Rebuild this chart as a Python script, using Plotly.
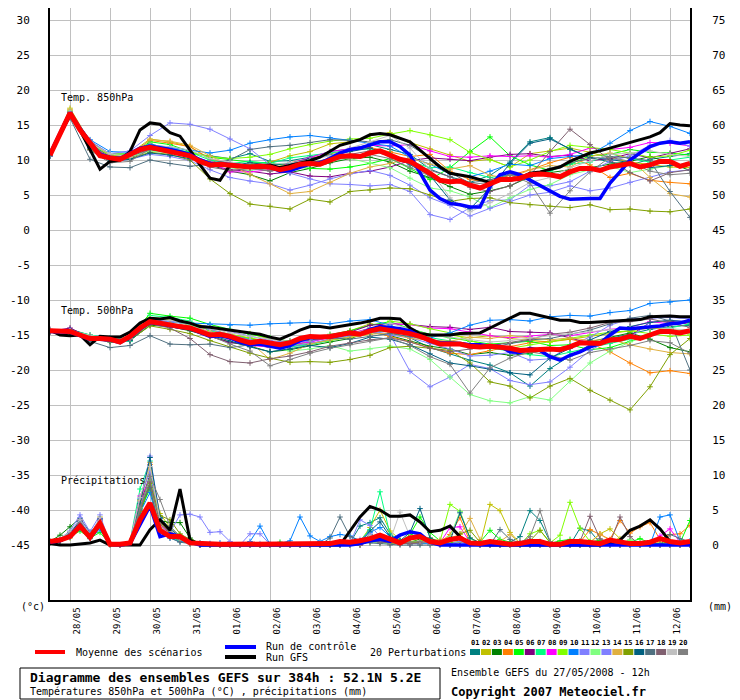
import plotly.graph_objects as go

# time axis (hours after 27/05/2008 12h)
HOURS = list(range(0, 385, 6))
HOURS_12 = list(range(0, 385, 12))
TICK_HOURS = [12, 36, 60, 84, 108, 132, 156, 180, 204, 228, 252, 276, 300, 324, 348, 372]
DAY_LABELS = ["28/05", "29/05", "30/05", "31/05", "01/06", "02/06", "03/06", "04/06",
              "05/06", "06/06", "07/06", "08/06", "09/06", "10/06", "11/06", "12/06"]

T_TICKS = [-45, -40, -35, -30, -25, -20, -15, -10, -5, 0, 5, 10, 15, 20, 25, 30]
P_TICKS = [0, 5, 10, 15, 20, 25, 30, 35, 40, 45, 50, 55, 60, 65, 70, 75]

MEMBER_COLORS = ["#008080", "#c0c000", "#008000", "#ff8000", "#00ff00", "#800080", "#00ff80",
                 "#ff00ff", "#80ff00", "#0080ff", "#8080ff", "#80ff80", "#8080ff", "#e0b040",
                 "#80a000", "#006080", "#507080", "#806070", "#c0c0c0", "#808080"]

# 850 hPa (6h)
T850_MEAN = [10.7, 13.7, 16.7, 14.3, 12.4, 10.6, 10.3, 10.1, 10.8, 11.5, 11.8, 11.5, 11.3, 11.0, 10.6, 9.8,
             9.3, 9.4, 9.3, 9.1, 9.0, 9.1, 9.0, 8.6, 8.9, 9.4, 9.5, 9.4, 10.0, 10.5, 10.6, 10.5,
             11.0, 11.3, 10.7, 10.1, 9.8, 9.0, 8.1, 7.1, 6.9, 7.0, 6.4, 6.0, 6.6, 7.2, 7.2, 7.4,
             7.9, 8.0, 7.9, 7.6, 8.3, 8.8, 8.8, 8.5, 9.0, 9.3, 9.5, 9.0, 9.3, 9.8, 9.8, 9.1, 9.5]
T850_CTRL = [10.9, 13.8, 16.8, 14.5, 12.5, 10.8, 10.4, 10.2, 10.9, 11.7, 12.0, 11.8, 11.5, 11.2, 10.8, 10.0,
             9.5, 9.5, 9.4, 9.2, 9.0, 9.1, 9.0, 8.4, 8.5, 9.0, 9.4, 9.6, 10.2, 11.0, 11.5, 11.7,
             12.2, 12.6, 12.6, 11.9, 10.7, 8.3, 5.7, 4.5, 3.8, 3.6, 3.3, 3.3, 6.2, 7.9, 8.3, 7.9,
             7.1, 6.4, 5.5, 4.8, 4.4, 4.5, 4.5, 4.5, 6.7, 8.3, 10.0, 11.0, 11.9, 12.4, 12.6, 12.4, 12.6]
T850_GFS = [10.7, 13.5, 16.4, 14.3, 11.4, 8.7, 9.8, 10.0, 11.2, 14.3, 15.3, 15.1, 13.9, 13.4, 11.4, 9.3,
            7.4, 7.1, 9.3, 9.1, 9.1, 9.2, 9.3, 8.9, 9.2, 9.6, 9.9, 10.4, 11.2, 12.1, 12.5, 12.9,
            13.6, 13.8, 13.6, 13.1, 12.6, 11.4, 10.2, 9.0, 8.1, 7.9, 7.6, 7.2, 6.8, 7.1, 7.1, 7.4,
            8.1, 8.3, 8.6, 9.0, 9.8, 10.4, 11.0, 11.3, 11.7, 12.1, 12.6, 12.9, 13.3, 13.9, 15.2, 15.0, 14.9]

# 850 hPa perturbations (12h)
T850_MEMBERS = [
    [10.8, 16.9, 12.3, 10.5, 10.6, 12.3, 11.6, 10.9, 10.6, 10.2, 10.9, 9.8, 9.9, 10.4, 11.2, 11.6, 12.2,
     11.5, 10.8, 8.7, 7.6, 6.8, 7.8, 9.7, 12.6, 13.2, 11.5, 10.4, 9.7, 9.3, 10.1, 10.5, 10.9],
    [10.9, 17.4, 12.6, 10.9, 10.9, 13.0, 12.6, 11.9, 10.0, 9.0, 9.4, 9.7, 10.6, 11.2, 12.3, 12.6, 13.5,
     13.9, 12.5, 11.6, 10.8, 9.8, 10.1, 9.0, 10.9, 11.3, 11.7, 11.1, 10.3, 9.7, 9.3, 9.0, 8.9],
    [10.6, 16.6, 12.1, 10.3, 10.5, 11.6, 11.2, 10.4, 9.3, 8.4, 7.9, 7.0, 8.2, 8.8, 9.6, 10.2, 10.4,
     9.7, 8.4, 7.5, 6.2, 5.1, 5.6, 6.3, 7.6, 8.2, 8.6, 8.9, 9.4, 9.8, 10.5, 9.6, 8.5],
    [10.7, 16.3, 12.8, 10.6, 10.8, 12.8, 12.4, 11.9, 10.2, 9.4, 9.0, 8.7, 9.6, 10.2, 10.9, 11.5, 11.8,
     11.2, 10.5, 10.8, 8.4, 7.2, 6.9, 7.8, 8.6, 9.6, 10.4, 9.3, 7.5, 8.1, 7.1, 6.8, 6.6],
    [10.9, 17.0, 12.0, 10.7, 10.6, 12.6, 12.2, 11.2, 10.4, 10.1, 9.7, 9.6, 9.1, 8.8, 8.7, 9.0, 9.5,
     10.2, 8.8, 7.2, 8.9, 11.2, 13.3, 10.6, 9.3, 8.5, 9.4, 10.6, 10.8, 11.5, 11.1, 11.0, 10.7],
    [10.6, 16.5, 11.8, 10.2, 10.3, 11.4, 11.1, 10.5, 9.3, 8.6, 8.4, 8.0, 8.3, 7.7, 7.6, 8.1, 8.4,
     9.0, 9.9, 10.3, 10.1, 9.9, 10.4, 10.8, 10.9, 10.5, 10.7, 9.9, 10.2, 10.9, 10.3, 10.9, 11.6],
    [10.7, 16.8, 12.2, 10.8, 10.9, 12.0, 11.7, 11.1, 10.0, 9.5, 9.8, 9.5, 10.3, 10.6, 11.0, 11.4, 11.6,
     10.9, 9.8, 8.9, 9.0, 8.2, 7.5, 7.9, 7.7, 8.4, 9.4, 9.7, 10.9, 10.2, 9.7, 10.0, 10.4],
    [10.8, 16.9, 12.1, 10.4, 10.7, 11.7, 11.3, 10.7, 9.7, 8.3, 8.3, 8.6, 9.5, 10.3, 11.2, 11.6, 12.1,
     12.0, 12.2, 11.3, 10.5, 10.4, 10.6, 10.5, 10.6, 10.4, 10.8, 11.7, 11.5, 11.8, 12.5, 12.4, 12.0],
    [10.8, 17.1, 12.5, 10.8, 10.6, 11.9, 11.5, 11.0, 10.5, 10.2, 10.4, 10.8, 11.6, 12.2, 12.7, 13.0, 13.1,
     13.7, 14.2, 13.6, 12.9, 11.1, 10.0, 9.0, 10.0, 11.2, 12.1, 11.8, 11.5, 11.0, 10.4, 10.6, 11.4],
    [10.9, 16.8, 12.9, 11.2, 11.1, 12.2, 11.8, 11.4, 11.0, 11.4, 12.4, 12.9, 13.3, 13.5, 13.2, 12.8, 12.4,
     12.0, 10.4, 9.4, 8.0, 7.6, 8.4, 9.4, 9.2, 10.2, 10.5, 10.8, 12.4, 14.2, 15.5, 14.8, 13.8],
    [10.7, 16.2, 12.7, 10.9, 11.3, 13.5, 15.3, 15.1, 14.4, 13.0, 11.6, 9.3, 8.1, 7.3, 6.6, 6.5, 6.3,
     6.5, 5.5, 2.2, 1.5, 3.2, 4.2, 4.3, 6.4, 6.3, 6.9, 8.4, 9.8, 10.6, 12.1, 12.8, 12.0],
    [10.6, 16.6, 11.9, 10.1, 10.4, 11.3, 11.0, 10.6, 9.5, 8.9, 8.5, 8.9, 9.3, 9.8, 10.1, 10.2, 9.6,
     8.9, 7.4, 6.0, 5.6, 4.7, 3.2, 4.6, 5.8, 6.5, 7.9, 8.6, 9.1, 8.2, 8.7, 9.2, 9.5],
    [10.5, 16.4, 11.6, 9.8, 10.1, 10.8, 10.5, 9.9, 8.6, 7.5, 7.0, 6.6, 5.7, 6.4, 7.3, 8.0, 8.5,
     7.8, 6.4, 4.6, 3.5, 2.0, 3.1, 4.0, 5.0, 5.4, 6.3, 5.6, 6.0, 6.8, 7.5, 8.3, 8.6],
    [10.8, 17.2, 12.5, 10.6, 10.5, 12.9, 12.7, 12.1, 10.6, 9.3, 8.0, 6.6, 5.2, 5.5, 6.8, 8.1, 9.0,
     9.5, 10.3, 9.4, 8.7, 9.2, 7.8, 7.4, 8.6, 9.2, 9.0, 10.5, 11.0, 10.2, 7.5, 5.2, 4.7],
    [10.7, 16.9, 11.5, 10.0, 10.2, 11.1, 10.8, 10.0, 7.3, 5.2, 3.7, 3.4, 3.0, 4.4, 4.0, 5.5, 5.7,
     6.0, 5.9, 5.0, 4.1, 4.5, 4.6, 3.9, 3.6, 3.4, 3.2, 3.6, 2.9, 3.0, 2.7, 2.6, 3.0],
    [10.6, 16.5, 11.7, 9.8, 10.1, 11.0, 10.7, 10.2, 9.5, 9.2, 9.6, 9.3, 9.5, 10.2, 10.7, 11.2, 11.7,
     10.8, 9.3, 7.8, 4.3, 3.0, 6.0, 9.5, 12.4, 13.0, 11.6, 10.3, 10.1, 9.6, 8.9, 9.2, 9.5],
    [10.8, 16.0, 10.1, 9.0, 8.9, 10.0, 9.5, 9.1, 9.4, 10.0, 11.5, 11.9, 12.1, 12.5, 12.9, 12.8, 12.6,
     12.9, 12.1, 10.3, 8.2, 6.7, 7.2, 7.9, 7.5, 8.8, 9.6, 10.2, 10.5, 10.3, 9.9, 5.5, 1.8],
    [10.7, 16.6, 12.0, 10.4, 10.6, 11.5, 11.1, 10.4, 9.0, 8.5, 8.8, 8.5, 9.0, 9.6, 10.3, 10.8, 11.3,
     10.6, 9.5, 8.5, 7.6, 6.1, 5.5, 6.3, 7.8, 11.2, 14.4, 12.2, 10.0, 8.2, 7.0, 8.2, 8.6],
    [10.9, 17.0, 12.4, 10.9, 10.4, 12.1, 11.9, 11.4, 10.2, 9.7, 9.2, 9.4, 9.6, 10.0, 10.6, 11.7, 12.6,
     13.5, 11.7, 8.6, 4.6, 2.6, 3.9, 5.2, 6.8, 7.5, 8.9, 9.8, 10.8, 11.0, 11.3, 10.8, 10.5],
    [10.6, 16.3, 11.4, 9.6, 9.8, 11.6, 11.3, 10.8, 9.7, 9.1, 8.8, 8.4, 8.8, 9.4, 10.0, 10.3, 10.8,
     10.2, 8.9, 7.7, 6.9, 6.5, 6.8, 7.9, 6.7, 2.4, 5.6, 8.3, 10.4, 9.8, 8.4, 7.9, 8.1],
]

# 500 hPa (6h)
T500_MEAN = [-14.4, -14.5, -14.5, -15.0, -15.5, -15.5, -15.6, -16.0, -15.2, -14.0, -13.1, -13.3, -13.6, -13.8, -14.0, -14.5,
             -15.0, -14.9, -15.2, -15.7, -16.1, -15.9, -16.2, -16.4, -16.1, -15.5, -15.2, -15.3, -15.2, -14.9, -14.7, -14.9,
             -14.4, -14.1, -14.3, -14.5, -14.8, -15.2, -15.7, -16.3, -16.3, -16.3, -16.6, -16.7, -16.6, -16.7, -16.9, -17.2,
             -17.1, -17.0, -17.0, -17.1, -16.7, -16.1, -16.1, -16.2, -15.7, -15.6, -15.2, -15.5, -15.0, -14.5, -14.5, -14.7, -14.4]
T500_CTRL = [-14.5, -14.6, -14.6, -15.1, -15.6, -15.6, -15.7, -16.1, -15.3, -14.1, -13.2, -13.4, -13.7, -13.9, -14.1, -14.6,
             -15.2, -15.1, -15.4, -16.0, -16.4, -16.3, -16.6, -16.9, -16.5, -15.8, -15.4, -15.4, -15.3, -15.0, -14.8, -14.9,
             -14.2, -13.8, -13.9, -14.1, -14.4, -15.2, -15.9, -16.1, -16.1, -16.2, -16.4, -16.4, -16.6, -16.6, -17.4, -17.5,
             -16.9, -17.2, -18.1, -18.6, -17.9, -17.4, -16.7, -16.2, -15.0, -14.0, -14.1, -14.0, -13.8, -13.7, -13.4, -13.3, -12.9]
T500_GFS = [-14.3, -15.0, -15.1, -15.0, -16.4, -15.2, -15.3, -15.3, -14.6, -13.3, -12.6, -12.7, -12.5, -13.0, -13.3, -13.8,
            -13.9, -14.1, -14.2, -14.4, -14.7, -14.9, -15.3, -15.6, -15.0, -14.3, -13.8, -13.8, -14.0, -13.8, -13.6, -13.3,
            -13.0, -12.6, -12.6, -12.7, -14.0, -14.8, -15.0, -15.0, -15.0, -14.8, -14.8, -14.7, -14.0, -13.3, -12.6, -11.9,
            -11.9, -12.2, -12.6, -12.9, -12.9, -13.2, -13.2, -13.1, -13.1, -13.0, -12.9, -12.8, -12.4, -12.3, -12.3, -12.4, -12.4]

# 500 hPa perturbations (12h)
T500_MEMBERS = [
    [-14.3, -14.4, -15.2, -15.7, -15.6, -13.0, -13.4, -13.9, -14.8, -15.2, -15.5, -16.4, -16.6, -16.3, -15.6, -14.9, -14.0,
     -14.6, -15.4, -16.8, -17.7, -18.6, -19.3, -20.4, -22.3, -19.8, -18.0, -16.4, -15.5, -14.9, -14.2, -13.8, -13.6],
    [-14.2, -14.3, -15.4, -15.8, -15.5, -12.5, -12.7, -13.2, -13.9, -14.3, -14.8, -15.6, -15.9, -15.8, -15.0, -14.4, -13.4,
     -13.8, -14.9, -15.2, -15.0, -15.4, -15.1, -15.5, -15.8, -16.0, -15.6, -15.2, -14.9, -14.5, -14.0, -14.2, -14.5],
    [-14.5, -14.6, -15.4, -16.0, -15.8, -13.6, -13.8, -14.4, -15.2, -16.0, -16.6, -17.4, -17.1, -16.5, -16.0, -15.5, -14.6,
     -15.1, -15.9, -16.6, -17.0, -17.8, -17.5, -17.9, -17.6, -17.0, -16.6, -16.0, -15.4, -14.7, -15.6, -16.8, -17.4],
    [-14.4, -14.5, -15.3, -15.7, -15.5, -13.1, -13.0, -13.5, -14.3, -14.9, -15.5, -16.1, -16.0, -15.7, -15.3, -14.9, -14.4,
     -15.2, -16.0, -16.8, -17.6, -17.8, -17.2, -16.6, -16.1, -15.9, -15.6, -16.2, -17.4, -19.0, -20.4, -20.1, -20.5],
    [-14.3, -14.2, -15.0, -15.5, -15.4, -11.9, -12.3, -12.6, -13.5, -14.2, -14.9, -15.4, -15.9, -15.5, -14.9, -14.4, -13.6,
     -13.1, -14.1, -14.9, -15.4, -15.9, -16.3, -16.1, -15.9, -16.5, -16.4, -17.1, -16.8, -15.9, -15.0, -14.6, -14.4],
    [-14.5, -14.0, -15.3, -15.6, -15.7, -13.2, -13.5, -14.0, -15.2, -16.1, -16.3, -16.8, -16.4, -16.0, -15.2, -14.6, -13.6,
     -13.4, -13.5, -13.8, -13.9, -14.2, -13.9, -14.5, -14.6, -14.7, -15.4, -16.2, -16.0, -15.1, -13.2, -13.0, -13.5],
    [-14.4, -14.6, -15.4, -15.9, -15.9, -12.2, -12.5, -13.0, -14.4, -15.1, -15.6, -16.3, -16.7, -16.4, -15.8, -15.2, -14.6,
     -14.4, -14.9, -15.3, -15.9, -16.4, -16.9, -17.3, -17.8, -18.1, -17.4, -16.8, -16.2, -15.6, -14.8, -14.0, -13.4],
    [-14.2, -14.4, -15.1, -15.6, -15.6, -12.8, -13.0, -13.5, -14.6, -15.6, -16.5, -16.7, -16.4, -16.0, -15.4, -14.8, -14.1,
     -13.4, -13.5, -14.0, -14.1, -14.6, -15.1, -15.4, -15.2, -14.9, -15.1, -14.6, -14.2, -13.9, -13.1, -13.4, -13.2],
    [-14.4, -14.5, -15.2, -15.8, -15.6, -12.5, -12.9, -13.6, -14.3, -14.9, -15.4, -16.0, -16.5, -16.2, -15.8, -15.4, -14.9,
     -13.0, -13.4, -14.1, -14.7, -15.8, -16.6, -16.9, -16.4, -16.0, -15.5, -15.0, -14.6, -14.4, -14.8, -15.2, -15.0],
    [-14.3, -14.3, -15.0, -15.4, -15.5, -12.8, -13.2, -13.3, -13.5, -13.6, -13.6, -13.4, -13.3, -13.2, -13.4, -13.0, -12.8,
     -13.6, -14.7, -15.4, -14.7, -13.6, -12.9, -12.8, -13.0, -12.4, -12.2, -12.3, -11.8, -11.5, -10.5, -10.3, -10.0],
    [-14.5, -14.6, -15.5, -15.9, -15.8, -13.2, -13.1, -13.4, -13.8, -14.5, -15.2, -15.8, -16.1, -15.9, -15.3, -14.8, -14.4,
     -14.9, -20.2, -22.4, -21.0, -19.2, -19.8, -21.5, -22.1, -21.7, -19.6, -17.2, -15.7, -15.4, -13.2, -12.9, -13.0],
    [-14.3, -14.4, -15.0, -15.5, -15.4, -12.6, -13.0, -13.5, -14.7, -15.5, -16.2, -16.7, -17.3, -17.0, -16.5, -17.3, -17.0,
     -16.6, -17.0, -18.5, -21.0, -23.5, -24.4, -24.7, -23.8, -24.3, -21.6, -19.0, -17.3, -16.0, -15.0, -14.6, -14.8],
    [-14.4, -14.5, -15.3, -15.8, -15.6, -12.9, -13.0, -13.4, -14.2, -15.0, -15.7, -16.4, -16.6, -16.2, -15.6, -15.1, -14.6,
     -15.0, -15.4, -16.2, -17.0, -18.0, -17.9, -17.5, -18.6, -18.4, -16.5, -15.3, -13.6, -12.7, -12.6, -12.5, -12.7],
    [-14.4, -14.5, -15.2, -15.7, -15.5, -12.9, -13.3, -13.8, -14.6, -15.4, -16.0, -18.5, -17.6, -16.3, -15.7, -15.3, -14.9,
     -14.7, -15.5, -15.7, -15.9, -15.3, -15.5, -15.1, -15.4, -15.7, -15.4, -15.8, -15.6, -16.4, -17.0, -17.5, -17.7],
    [-14.5, -14.6, -15.3, -15.9, -15.7, -13.7, -14.2, -14.8, -15.8, -16.7, -17.6, -18.3, -18.9, -18.8, -18.9, -18.5, -17.9,
     -16.8, -16.6, -16.9, -17.2, -19.0, -21.7, -22.3, -24.0, -22.3, -21.2, -22.9, -24.3, -25.7, -22.4, -17.8, -15.5],
    [-14.4, -14.4, -15.2, -15.8, -15.8, -13.3, -13.6, -14.2, -15.0, -15.9, -16.7, -17.4, -17.0, -16.5, -16.8, -16.2, -15.3,
     -15.6, -16.4, -17.7, -19.0, -19.4, -19.9, -20.4, -20.7, -18.3, -16.9, -15.7, -14.5, -13.8, -13.2, -12.9, -13.2],
    [-14.6, -14.6, -15.9, -16.8, -16.5, -15.1, -16.3, -16.4, -16.3, -16.8, -16.4, -16.2, -15.9, -15.7, -15.4, -15.6, -15.2,
     -14.8, -15.2, -15.8, -16.0, -16.5, -16.8, -16.2, -15.7, -15.5, -14.9, -14.3, -13.4, -12.6, -12.2, -13.0, -20.0],
    [-14.5, -14.5, -15.3, -15.9, -15.6, -13.4, -14.0, -15.5, -17.8, -18.8, -19.0, -18.4, -18.0, -17.4, -16.6, -16.1, -15.7,
     -15.4, -16.0, -16.9, -17.4, -17.0, -16.5, -16.1, -15.6, -14.9, -14.6, -14.0, -13.2, -13.1, -12.7, -13.3, -13.9],
    [-14.3, -14.4, -15.1, -15.6, -15.5, -12.7, -12.9, -13.3, -14.1, -14.7, -15.2, -15.6, -15.9, -15.6, -15.0, -14.8, -14.2,
     -13.3, -14.2, -15.0, -15.3, -15.7, -16.0, -15.8, -15.4, -15.1, -14.8, -14.5, -14.2, -14.0, -13.9, -14.1, -14.3],
    [-14.4, -14.5, -15.2, -15.7, -15.6, -13.0, -13.4, -14.1, -15.1, -16.3, -17.3, -19.4, -18.5, -17.6, -16.9, -16.4, -15.8,
     -15.4, -16.5, -18.1, -19.2, -23.3, -19.7, -18.3, -17.4, -17.9, -18.6, -17.5, -17.0, -16.5, -15.8, -16.1, -17.6],
]

# precipitation, mm per 6h
PRECIP_MEAN = [0.5, 0.7, 1.2, 2.7, 1.1, 3.1, 0.1, 0.1, 0.3, 3.6, 6.0, 2.1, 1.2, 1.2, 0.3, 0.2,
               0.1, 0.1, 0.1, 0.1, 0.1, 0.2, 0.1, 0.1, 0.1, 0.2, 0.2, 0.1, 0.2, 0.5, 0.4, 0.6,
               0.9, 1.4, 0.8, 0.3, 1.0, 1.2, 0.5, 0.3, 0.8, 1.0, 0.3, 0.2, 0.5, 0.3, 0.1, 0.2,
               0.5, 0.5, 0.1, 0.1, 0.5, 0.5, 0.4, 0.2, 0.7, 0.5, 0.2, 0.2, 0.4, 0.9, 0.5, 0.3, 0.5]
PRECIP_CTRL = [0.4, 0.6, 1.3, 2.8, 1.0, 2.9, 0.1, 0, 0.2, 2.8, 5.6, 1.2, 1.6, 1.2, 0.4, 0,
               0, 0, 0, 0, 0, 0, 0, 0, 0, 0, 0, 0, 0, 0, 0, 0.2,
               0.6, 0.8, 0.5, 1.4, 1.9, 1.6, 0.4, 0, 0, 0, 0, 0, 0, 0, 0, 0,
               0, 0, 0, 0, 0, 0, 0, 0, 0, 0, 0, 0, 0, 0, 0, 0, 0]
PRECIP_GFS = [0.2, 0, 0, 0.1, 0.3, 0.7, 0, 0, 0, 0, 2.2, 3.6, 2.1, 8.0, 0.7, 0,
              0, 0, 0, 0, 0, 0, 0, 0, 0, 0, 0, 0, 0, 0, 2.0, 4.0,
              5.5, 5.0, 4.1, 4.1, 4.3, 3.3, 1.9, 2.1, 2.7, 1.2, 0.1, 0, 0, 0, 0, 0,
              0, 0, 0, 0, 0, 0, 0, 0, 0.2, 0.7, 2.1, 2.7, 3.6, 2.3, 0.5, 0.2, 0.1]

PRECIP_MEMBERS = [
    [0.4, 0.6, 1.5, 3.2, 1.2, 3.0, 0.1, 0, 0.4, 5.5, 9.5, 3.8, 2.1, 1.4, 0.5, 0.1,
     0, 0, 0, 0, 0, 0, 0, 0, 0, 0, 0, 0, 0, 0, 0.3, 2.7,
     3.2, 3.9, 1.6, 0.6, 0.3, 0.2, 0.4, 0.1, 0, 0, 0, 0, 0, 0.2, 0.4, 1.2,
     4.9, 3.5, 0.5, 0, 0, 2.4, 2.0, 0.3, 0, 0, 0, 0, 0, 0, 0.2, 0, 0.3],
    [0.3, 0.5, 1.0, 2.5, 1.0, 4.0, 0.1, 0, 0.3, 6.5, 11.0, 4.5, 2.5, 1.0, 0.3, 0,
     0, 0, 0, 0, 0, 0, 0, 0, 0, 0, 0, 0, 0, 0, 0, 0.5,
     2.5, 5.0, 2.0, 0.8, 0.3, 0.5, 0.6, 0.2, 0, 0.4, 0.3, 0, 5.8, 4.9, 1.8, 0.3,
     0, 0, 0, 0, 0, 0.6, 0.4, 1.6, 2.3, 0.9, 0, 0, 0, 0.3, 0, 0, 0],
    [0.5, 1.4, 2.6, 3.8, 1.8, 3.3, 0.2, 0, 0.5, 4.5, 8.5, 3.5, 3.2, 3.2, 1.0, 0.2,
     0, 0, 0, 0, 0, 0, 0, 0, 0, 0, 0, 0, 0, 0, 0, 0.3,
     1.5, 1.0, 0.5, 0.3, 0.4, 0.8, 0.5, 0.2, 0, 0, 0, 0, 0, 0, 0, 0,
     0, 0, 0, 0, 0, 0, 0.3, 0, 0, 0.6, 0, 0, 0, 0, 0, 0, 0],
    [0.4, 0.7, 1.8, 3.5, 1.5, 3.5, 0.1, 0, 0.3, 6.0, 11.5, 2.5, 1.8, 0.9, 0.3, 0,
     0, 0, 0, 0, 0, 0, 0, 0, 0, 0, 0, 0, 0, 0, 0, 0.2,
     1.0, 0.8, 0.6, 0.3, 0.2, 0.5, 0.9, 0.4, 1.5, 3.9, 0.5, 0, 0, 0, 0, 0,
     0, 0, 0, 0, 0, 0.4, 2.2, 1.5, 0.8, 3.5, 1.7, 2.6, 3.2, 0.8, 1.5, 1.6, 2.8],
    [0.4, 0.8, 1.2, 2.0, 1.0, 1.8, 0.1, 0, 0.4, 5.0, 8.0, 2.2, 1.2, 0.6, 0.2, 0,
     0, 0, 0, 0, 0, 0, 0, 0.4, 0.2, 0, 0, 0, 0, 0, 0, 0.4,
     1.2, 0.6, 0.3, 0.4, 1.5, 4.0, 1.8, 0.6, 0.3, 0.5, 0.2, 0.4, 2.1, 0.8, 0.4, 0.2,
     0.3, 0.5, 0.2, 0.6, 0.8, 0.3, 0.4, 0.7, 0.3, 0.2, 0.4, 0.9, 0.3, 0.2, 0.5, 0.3, 3.5],
    [0.3, 0.6, 1.6, 3.6, 1.4, 3.8, 0.1, 0, 0.3, 5.8, 10.0, 3.2, 1.6, 0.7, 0.2, 0,
     0, 0, 0, 0, 0, 0, 0, 0, 0, 0, 0, 0, 0, 0, 0, 0,
     0.6, 0.4, 0.3, 0.2, 0.2, 0.3, 0.5, 0.2, 0, 0, 0, 0, 0, 0, 0, 0,
     0, 0, 0, 0, 0, 0, 0, 0, 0, 0, 0, 0, 0, 0, 0, 0, 0],
    [0.5, 0.8, 1.9, 3.0, 1.3, 2.8, 0.1, 0, 0.5, 8.0, 12.0, 3.5, 2.0, 1.0, 0.4, 0.1,
     0, 0, 0, 0, 0, 0, 0, 0, 0, 0, 0, 0, 0, 0, 0, 0.6,
     2.2, 7.6, 1.5, 0.5, 0.3, 0.2, 0.4, 0.2, 0, 0, 0, 0, 0, 0, 0, 0,
     0, 0, 0, 0, 0, 0, 0, 0, 0, 0, 0, 0, 0, 0, 0, 0, 0],
    [0.4, 0.7, 1.7, 3.3, 1.3, 3.4, 0.1, 0, 0.4, 7.0, 9.0, 2.8, 1.5, 0.8, 0.3, 0,
     0, 0, 0, 0, 0, 0, 0, 0, 0, 0, 0, 0, 0, 0, 0, 0.2,
     0.8, 0.5, 0.3, 0.2, 0.3, 0.4, 0.6, 0.3, 2.5, 2.6, 0.4, 0, 0, 0, 0, 0,
     0, 0, 0, 0, 0, 0, 0, 0, 0, 0, 0, 0, 0, 1.3, 2.3, 0.4, 0],
    [0.4, 0.6, 1.4, 2.8, 1.1, 3.1, 0.1, 0, 0.3, 5.2, 9.8, 3.0, 2.6, 1.3, 0.6, 0.2,
     0, 0, 0, 0, 0, 0, 0, 0, 0, 0, 0, 0, 0, 0, 0, 0.1,
     0.5, 0.6, 0.4, 0.3, 0.5, 0.6, 1.0, 0.5, 5.8, 4.8, 1.0, 0.3, 0, 0, 0, 0,
     1.6, 2.1, 0.3, 1.4, 6.1, 2.4, 0.5, 0, 0, 0.4, 0.6, 0, 0, 0, 0, 0, 0],
    [0.3, 0.5, 1.1, 2.3, 0.9, 2.2, 0.1, 0, 0.3, 4.6, 7.5, 2.0, 1.0, 0.5, 0.3, 0.2,
     0.2, 0.3, 0.1, 0, 0.5, 2.7, 0.1, 0.2, 0.6, 4.0, 1.3, 0.5, 1.2, 1.5, 1.3, 0.6,
     1.8, 2.5, 1.2, 0.4, 0.2, 0.3, 0.2, 0.1, 0, 0, 0, 0, 0, 0, 0, 0,
     0, 0, 0, 0, 0, 0, 0, 0, 0, 0, 0, 0, 0, 4.0, 4.3, 0.5, 0.6],
    [0.5, 0.9, 2.0, 4.3, 1.9, 4.3, 0.2, 0, 0.4, 6.2, 12.7, 4.0, 1.8, 4.3, 4.4, 4.0,
     1.8, 1.9, 0.5, 0, 1.6, 1.6, 0.1, 0, 0, 0, 0, 0, 0, 0, 0.2, 3.6,
     2.8, 1.2, 0.5, 0.3, 0.2, 0.3, 0.4, 0.2, 0.2, 0.5, 0, 0, 0, 0, 0, 0,
     0, 0, 0, 0, 0, 0, 0, 0, 0, 0, 0, 0, 0, 0, 0, 0, 0],
    [0.4, 0.7, 1.3, 2.6, 1.0, 2.6, 0.1, 0, 0.3, 5.4, 9.2, 2.7, 1.4, 0.7, 0.3, 0.1,
     0, 0, 0, 0, 0, 0, 0, 0, 0, 0, 0, 0, 0, 0, 0, 0.1,
     0.4, 0.3, 0.2, 0.3, 0.3, 0.5, 0.7, 0.5, 1.2, 4.8, 0.9, 0.2, 0, 0, 0, 0,
     0, 0, 0, 0, 0, 0, 0, 0, 0.5, 0, 0.8, 0, 0, 0, 0, 0, 0],
    [0.4, 0.8, 1.6, 3.9, 1.6, 3.6, 0.1, 0, 0.4, 6.6, 10.5, 3.4, 2.4, 1.2, 0.5, 0.3,
     0.2, 0.2, 0.1, 0, 0.3, 0.2, 0, 0, 0, 0, 0, 0, 0, 0, 0, 0.8,
     1.6, 0.8, 0.4, 0.3, 0.2, 0.4, 0.3, 0.1, 0, 0, 0, 0, 0, 0, 0, 0,
     0, 0, 0, 0, 0, 0, 0, 0, 0, 0, 0, 0, 0, 0, 0, 0, 0],
    [0.3, 0.6, 1.5, 3.1, 1.2, 3.2, 0.1, 0, 0.3, 6.3, 11.8, 3.1, 1.9, 0.9, 0.3, 0,
     0, 0, 0, 0, 0, 0, 0, 0, 0, 0, 0, 0, 0, 0, 0, 0.3,
     0.9, 0.7, 0.4, 0.3, 0.3, 0.4, 0.6, 0.8, 1.0, 1.5, 3.8, 0.8, 0.3, 0.5, 1.5, 0.3,
     0, 0, 0, 0, 0, 0, 0.3, 1.6, 0.6, 0, 0, 0, 0, 0, 0, 0, 0],
    [0.5, 0.8, 1.3, 2.4, 1.0, 2.7, 0.1, 0, 0.4, 4.8, 8.8, 4.2, 3.6, 1.6, 0.8, 0.2,
     0, 0, 0, 0, 0, 0, 0, 0, 0, 0, 0, 0, 0, 0, 0, 0.2,
     0.6, 0.5, 0.3, 0.2, 0.3, 0.4, 0.5, 0.3, 0.4, 1.6, 2.1, 0.4, 0.2, 0, 0, 0,
     0.6, 2.1, 0.4, 0, 0, 0, 0, 0, 0, 0, 0, 0, 0, 0, 0, 0, 0],
    [0.4, 0.7, 1.7, 3.4, 1.5, 3.7, 0.1, 0, 0.4, 5.9, 12.5, 3.9, 2.3, 1.1, 0.4, 0,
     0, 0, 0, 0, 0, 0, 0, 0, 0, 0, 0, 0, 0, 0, 0, 0.4,
     2.0, 3.3, 1.2, 0.6, 1.8, 5.2, 1.0, 0.4, 0.6, 4.6, 1.0, 0.3, 0, 0, 0, 0,
     0, 0, 0, 0, 0, 0, 0, 0, 0, 0, 0, 0, 0, 0, 0, 0, 0],
    [0.3, 0.5, 1.2, 2.7, 1.1, 2.9, 0.1, 0, 0.3, 5.6, 8.2, 2.1, 1.0, 0.4, 0.2, 0,
     0, 0, 0, 0, 0, 0, 0, 0, 0, 0, 0, 0, 1.0, 4.0, 1.2, 0.6,
     0.3, 0.2, 0, 0, 0, 0, 0, 0, 0, 0, 0, 0, 0, 2.2, 0.8, 0.3,
     0.6, 0.4, 0, 0, 0, 0, 0, 0, 0, 0, 0, 0, 0, 0, 1.5, 0.9, 0.4],
    [0.4, 0.6, 1.4, 2.9, 1.2, 3.0, 0.1, 0, 0.3, 5.0, 9.0, 3.0, 1.7, 0.8, 0.3, 0,
     0, 0, 0, 0, 0, 0, 0, 0, 0, 0, 0, 0, 0, 0, 0, 0,
     0.5, 0.4, 0.3, 0.2, 0.2, 0.3, 0.4, 0.2, 0, 0, 0, 0, 0, 0, 0, 0.5,
     0.8, 0.3, 0, 0, 0, 0.5, 4.1, 0.9, 0.3, 4.0, 1.2, 0, 0, 0, 0, 0, 0],
    [0.5, 0.9, 1.9, 3.6, 1.5, 3.9, 0.2, 0, 0.4, 6.8, 11.2, 3.6, 2.2, 1.0, 0.4, 0.1,
     0, 0, 0, 0, 0, 0, 0, 0, 0, 0, 0, 0, 0, 0, 0, 0.3,
     1.4, 0.9, 0.6, 4.7, 1.2, 0.5, 0.4, 0.2, 0, 0, 0, 0, 0, 0, 0, 0,
     0, 0, 0, 0, 0, 0, 0, 0, 0, 0, 0, 0, 0, 0, 0, 0, 0],
    [0.4, 0.6, 1.5, 3.0, 1.3, 3.1, 0.1, 0, 0.5, 5.3, 9.8, 6.5, 2.7, 1.2, 0.4, 0,
     0, 0, 0, 0, 0, 0, 0, 0, 0, 0, 0, 0, 0, 0, 0.2, 0.4,
     0.8, 0.6, 0.4, 0.3, 0.4, 0.5, 0.3, 0.2, 0, 0, 0, 0, 0, 0, 0, 0.3,
     1.2, 4.9, 0.5, 0, 0, 0, 0, 0, 0, 0, 0, 0, 0, 0, 0, 0, 0],
]

for name, rows, n in [("850", T850_MEMBERS, len(HOURS_12)), ("500", T500_MEMBERS, len(HOURS_12)),
                      ("precip", PRECIP_MEMBERS, len(HOURS))]:
    for k, r in enumerate(rows):
        assert len(r) == n, (name, k + 1, len(r))

FONT = "DejaVu Sans Mono"
OFF = 8                      # the page body adds 8px around the figure
W, H = 740 - OFF, 700 - OFF
L, R, B = 50, 690, 600       # plot area in page pixels
TOP = OFF                    # first visible figure row in page pixels


def px(x):
    return (x - L) / (R - L)


def py(y):
    return (B - y) / (B - TOP)


fig = go.Figure()

for k, col in enumerate(MEMBER_COLORS):
    style = dict(mode="lines+markers", line=dict(color=col, width=1),
                 marker=dict(symbol="cross-thin", size=4, line=dict(color=col, width=1)),
                 hoverinfo="skip", showlegend=False)
    fig.add_trace(go.Scatter(x=HOURS_12, y=T850_MEMBERS[k], **style))
    fig.add_trace(go.Scatter(x=HOURS_12, y=T500_MEMBERS[k], **style))
    fig.add_trace(go.Scatter(x=HOURS, y=PRECIP_MEMBERS[k], yaxis="y2", **style))

for y850, y500, prec, col, w in [(T850_GFS, T500_GFS, PRECIP_GFS, "black", 3),
                                  (T850_CTRL, T500_CTRL, PRECIP_CTRL, "#0000ff", 3.5),
                                  (T850_MEAN, T500_MEAN, PRECIP_MEAN, "#ff0000", 5)]:
    style = dict(mode="lines", line=dict(color=col, width=w), hoverinfo="skip", showlegend=False)
    fig.add_trace(go.Scatter(x=HOURS, y=y850, **style))
    fig.add_trace(go.Scatter(x=HOURS, y=y500, **style))
    fig.add_trace(go.Scatter(x=HOURS, y=prec, yaxis="y2", **style))

# 0 degC sits at page y=230, 5 degC per 35 px
y_lo = (230 - B) / 7.0
y_hi = (230 - TOP) / 7.0

fig.update_layout(
    width=W, height=H,
    margin=dict(l=L - OFF, r=W - (R - OFF), t=0, b=H - (B - OFF)),
    paper_bgcolor="white", plot_bgcolor="white",
    showlegend=False,
    font=dict(family=FONT, size=10, color="black"),
    xaxis=dict(range=[0, 384], tickmode="array", tickvals=TICK_HOURS, ticktext=DAY_LABELS,
               tickangle=-90, tickfont=dict(size=9), ticklabelshift=7, ticklabelstandoff=2,
               showgrid=True, gridcolor="#c0c0c0",
               gridwidth=1, zeroline=False, showline=True, linecolor="black", linewidth=1.5,
               ticks="", fixedrange=True),
    yaxis=dict(range=[y_lo, y_hi], tickmode="array", tickvals=T_TICKS,
               ticktext=[str(v) for v in T_TICKS], tickfont=dict(size=11),
               showgrid=True, gridcolor="#c0c0c0", gridwidth=1, zeroline=False,
               showline=True, linecolor="black", linewidth=2, ticks="", ticklabelstandoff=16),
    yaxis2=dict(range=[y_lo + 45, y_hi + 45], overlaying="y", side="right", tickmode="array",
                tickvals=P_TICKS, ticktext=[str(v) for v in P_TICKS], tickfont=dict(size=11),
                showgrid=False, zeroline=False, showline=True, linecolor="black", linewidth=2,
                ticks="", ticklabelstandoff=18),
)

shapes = [
    dict(type="line", xref="paper", yref="paper", x0=px(35), x1=px(65), y0=py(652), y1=py(652),
         line=dict(color="#ff0000", width=4)),
    dict(type="line", xref="paper", yref="paper", x0=px(225), x1=px(256), y0=py(647), y1=py(647),
         line=dict(color="#0000ff", width=4)),
    dict(type="line", xref="paper", yref="paper", x0=px(225), x1=px(256), y0=py(657), y1=py(657),
         line=dict(color="black", width=4)),
    dict(type="rect", xref="paper", yref="paper", x0=px(20), x1=px(440), y0=py(668), y1=py(699),
         line=dict(color="black", width=1)),
]
annotations = []


def label(x, y, text, size=10, anchor="left"):
    annotations.append(dict(xref="paper", yref="paper", x=px(x), y=py(y), text=text, showarrow=False,
                            xanchor=anchor, yanchor="middle", font=dict(family=FONT, size=size)))


for k, col in enumerate(MEMBER_COLORS):
    x0 = 470 + k * 10.95
    shapes.append(dict(type="rect", xref="paper", yref="paper", x0=px(x0), x1=px(x0 + 10),
                       y0=py(649), y1=py(655), fillcolor=col, line=dict(width=0)))
    label(x0 + 5, 643, "<b>%02d</b>" % (k + 1), size=7, anchor="center")

label(59, 98, "Temp. 850hPa")
label(59, 310, "Temp. 500hPa")
label(59, 480, "Précipitations")
label(19, 606, "(°c)")
label(706, 606, "(mm)")
label(74, 652, "Moyenne des scénarios")
label(264, 646, "Run de contrôle")
label(264, 657, "Run GFS")
label(368, 652, "20 Perturbations")
label(28, 677, "<b>Diagramme des ensembles GEFS sur 384h : 52.1N 5.2E</b>", size=13)
label(28, 691, "Températures 850hPa et 500hPa (°C) , précipitations (mm)")
label(449, 672, "Ensemble GEFS du 27/05/2008 - 12h")
label(449, 692, "<b>Copyright 2007 Meteociel.fr</b>", size=12)

fig.update_layout(shapes=shapes, annotations=annotations)

fig.write_html("out.html")
